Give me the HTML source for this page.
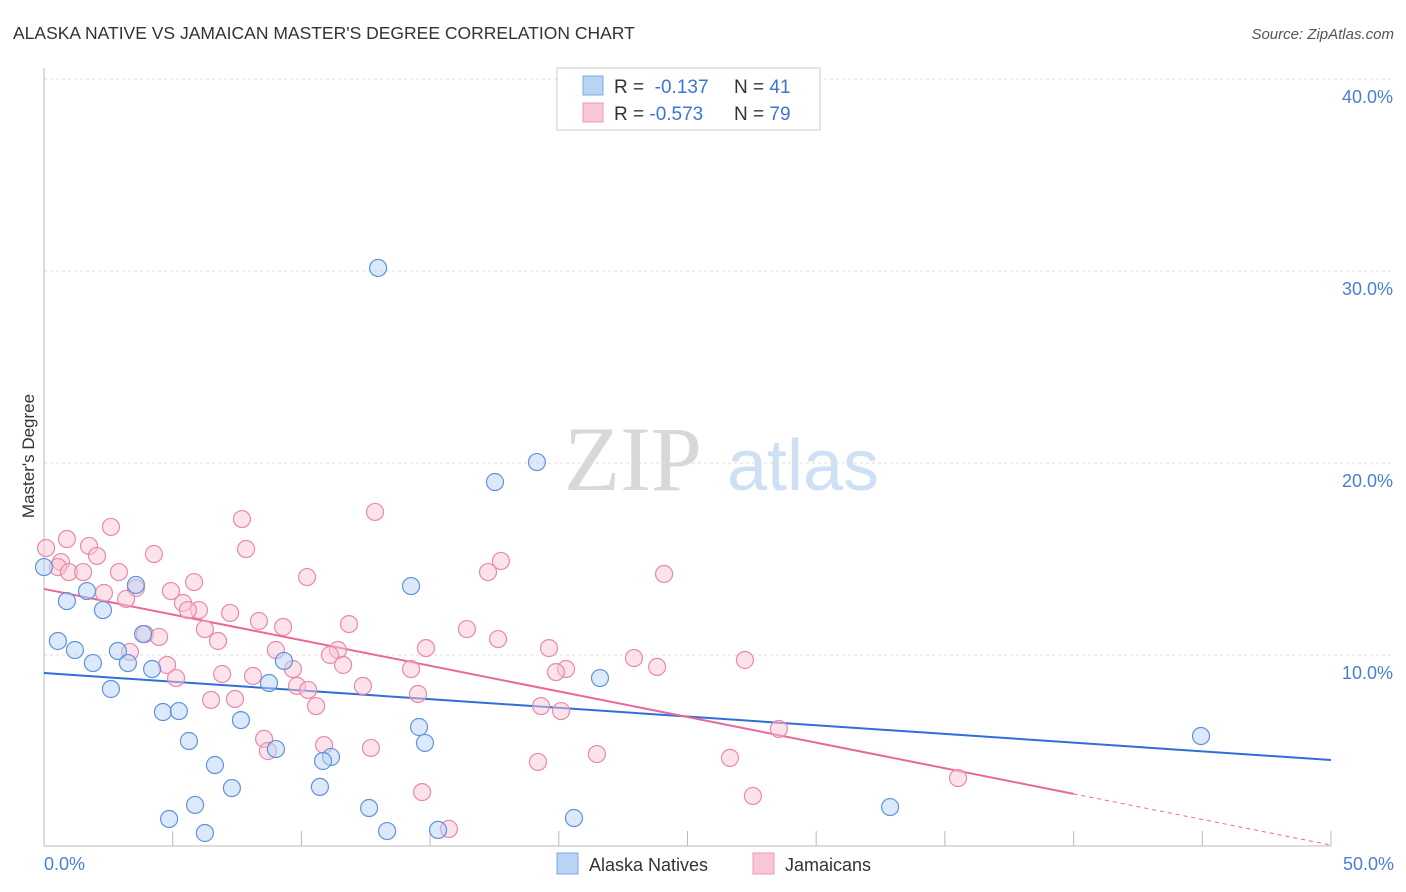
<!DOCTYPE html>
<html><head><meta charset="utf-8">
<style>
body{margin:0;background:#fff;font-family:"Liberation Sans",sans-serif;}
#wrap{position:relative;width:1406px;height:892px;overflow:hidden;}
</style></head>
<body>
<div id="wrap">
<svg id="svg" width="1406" height="892" xmlns="http://www.w3.org/2000/svg">
<text x="13" y="39" font-size="17.5" fill="#333">ALASKA NATIVE VS JAMAICAN MASTER'S DEGREE CORRELATION CHART</text>
<text x="1394" y="39" font-size="15" fill="#555" text-anchor="end" font-style="italic">Source: ZipAtlas.com</text>
<text x="34" y="456" font-size="17" fill="#333" text-anchor="middle" transform="rotate(-90 34 456)">Master's Degree</text>
<g>
<text x="633" y="490" font-size="92" fill="#d8d8d8" text-anchor="middle" font-family="Liberation Serif,serif">ZIP</text>
<text x="803" y="490" font-size="72" fill="#cfe0f5" text-anchor="middle">atlas</text>
</g>
<g id="grid"></g>
<g id="axes"></g>
<g id="lines"></g>
<g id="pts"></g>
<g>
<rect x="557" y="68" width="263" height="62" fill="#fff" stroke="#ccc"/>
<rect x="583" y="76" width="20" height="19" fill="#b9d3f5" stroke="#7ea8e0"/>
<rect x="583" y="103" width="20" height="19" fill="#f9c6d6" stroke="#eb9ab3"/>
<text x="614" y="93" font-size="19" fill="#333">R = <tspan fill="#3d74d4">&#160;-0.137</tspan><tspan x="734">N = </tspan><tspan fill="#3d74d4"> 41</tspan></text>
<text x="614" y="120" font-size="19" fill="#333">R = <tspan fill="#3d74d4">-0.573</tspan><tspan x="734">N = </tspan><tspan fill="#3d74d4">79</tspan></text>
</g>
<g>
<rect x="557" y="853" width="21" height="21" fill="#b9d3f5" stroke="#7ea8e0"/>
<text x="589" y="871" font-size="18" fill="#333">Alaska Natives</text>
<rect x="753" y="853" width="21" height="21" fill="#f9c6d6" stroke="#eb9ab3"/>
<text x="785" y="871" font-size="18" fill="#333">Jamaicans</text>
</g>
</svg>
</div>
<script>
const xTickLabels=["0.0%","50.0%"];
const yTicks=[10,20,30,40];
const yTickLabels=["10.0%","20.0%","30.0%","40.0%"];
const alaskaX=[12.98,19.15,17.52,14.26,3.57,1.67,0.89,2.29,3.85,0.54,1.20,2.87,1.90,3.26,4.20,9.32,21.60,8.74,2.60,4.62,5.24,7.65,14.57,5.63,14.80,9.01,11.15,10.84,6.64,7.30,10.72,5.87,12.63,32.87,4.86,20.59,6.25,13.33,15.31,44.95,0];
const alaskaY=[30.16,20.05,19.01,13.59,13.65,13.33,12.81,12.34,11.09,10.73,10.26,10.21,9.58,9.58,9.27,9.69,8.80,8.54,8.23,7.03,7.08,6.61,6.25,5.52,5.42,5.10,4.69,4.48,4.27,3.07,3.13,2.19,2.03,2.08,1.46,1.51,0.73,0.83,0.89,5.78,14.58];
const jamX=[12.86,7.69,2.60,0.89,0.08,1.75,7.85,4.27,2.06,0.66,0.54,0.97,1.52,2.91,17.75,17.25,24.09,10.22,5.83,3.57,4.93,2.33,3.19,5.40,6.02,5.59,7.23,8.35,11.85,9.29,6.25,16.43,3.92,4.47,6.76,17.64,14.84,19.62,11.42,9.01,11.11,3.34,22.92,27.23,4.78,11.62,9.67,14.26,20.28,19.89,23.82,6.92,8.12,5.13,9.83,10.26,12.39,14.53,7.42,6.49,10.57,19.31,20.09,28.55,8.55,10.88,8.70,12.70,21.48,26.65,19.19,35.51,14.69,27.54,15.73];
const jamY=[17.45,17.08,16.67,16.04,15.57,15.68,15.52,15.26,15.16,14.84,14.58,14.32,14.32,14.32,14.90,14.32,14.22,14.06,13.80,13.49,13.33,13.23,12.92,12.71,12.34,12.34,12.19,11.77,11.61,11.46,11.35,11.35,11.09,10.94,10.73,10.83,10.36,10.36,10.26,10.26,10.0,10.16,9.84,9.74,9.48,9.48,9.27,9.27,9.27,9.11,9.38,9.01,8.91,8.80,8.39,8.18,8.39,7.97,7.71,7.66,7.34,7.34,7.08,6.15,5.63,5.31,5.0,5.16,4.84,4.64,4.43,3.59,2.86,2.66,0.94];
const alaskaTrend=[9.06,4.53];
const jamTrend=[13.44,0.1];
const jamSolidEnd=40;

const NS="http://www.w3.org/2000/svg";
const X=v=>44+v/50*1287;
const Y=v=>847-v*19.2;
function mk(tag,attrs,parent){const e=document.createElementNS(NS,tag);for(const k in attrs)e.setAttribute(k,attrs[k]);parent.appendChild(e);return e;}
const grid=document.getElementById('grid'),axes=document.getElementById('axes'),lines=document.getElementById('lines'),pts=document.getElementById('pts');
yTicks.forEach((t,i)=>{
  const l=mk('line',{x1:44,x2:1393,y1:Y(t),y2:Y(t),stroke:'#ddd','stroke-dasharray':'3,3'},grid);
  
  
  const tx=mk('text',{x:1393,y:Y(t)+24,'font-size':18,fill:'#4a7fd4','text-anchor':'end'},grid);
  tx.textContent=yTickLabels[i];
  
  
});
const ya=mk('line',{x1:44,x2:44,y1:68,y2:846,stroke:'#bbb'},axes);


const xa=mk('line',{x1:44,x2:1331,y1:846,y2:846,stroke:'#bbb'},axes);


for(let i=0;i<=10;i++){
  const t=mk('line',{x1:X(i*5),x2:X(i*5),y1:831,y2:846,stroke:'#bbb'},axes);
  
  
}
[[0,44,'start'],[50,1394,'end']].forEach((d,i)=>{
  const t=mk('text',{x:d[1],y:870,'font-size':18,fill:'#4a7fd4','text-anchor':d[2]},axes);
  t.textContent=xTickLabels[i];
  
  
});
function dot(x,y,fill,stroke,name){
  const c=mk('circle',{cx:X(x),cy:Y(y),r:8.5,fill:fill,'fill-opacity':0.5,stroke:stroke,'stroke-width':1.2},pts);
  
  
}
jamX.forEach((x,i)=>dot(x,jamY[i],'#f9c6d6','#e88aa8','jamaican-point'));
alaskaX.forEach((x,i)=>dot(x,alaskaY[i],'#b9d3f5','#5f93dc','alaska-native-point'));
const bl=mk('line',{x1:X(0),y1:Y(alaskaTrend[0]),x2:X(50),y2:Y(alaskaTrend[1]),stroke:'#2f6fd6','stroke-width':2},lines);


const jy=x=>jamTrend[0]+(jamTrend[1]-jamTrend[0])*x/50;
const pl=mk('line',{x1:X(0),y1:Y(jy(0)),x2:X(jamSolidEnd),y2:Y(jy(jamSolidEnd)),stroke:'#e8689a','stroke-width':2},lines);


const pd=mk('line',{x1:X(jamSolidEnd),y1:Y(jy(jamSolidEnd)),x2:X(50),y2:Y(jy(50)),stroke:'#e8689a','stroke-width':1,'stroke-dasharray':'4,4'},lines);


</script>
</body></html>
